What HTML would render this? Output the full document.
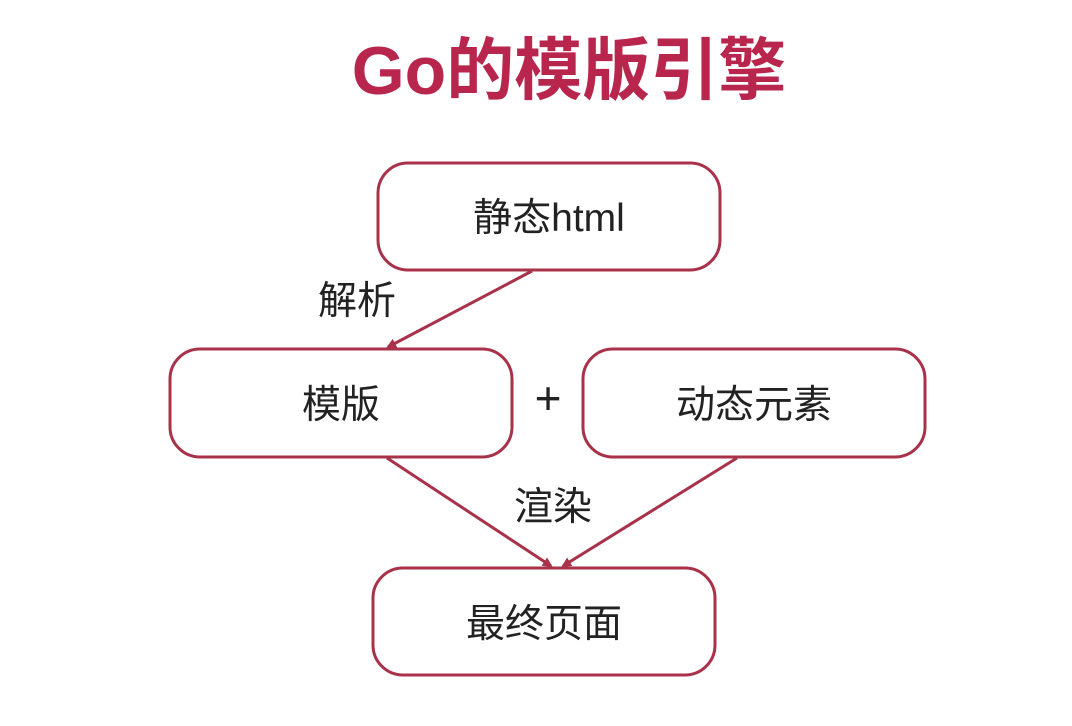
<!DOCTYPE html>
<html><head><meta charset="utf-8"><style>
body{margin:0;width:1072px;height:726px;background:#fff;overflow:hidden;position:relative;font-family:"Liberation Sans","Noto Sans CJK SC",sans-serif}
.t{position:absolute;left:0;width:1072px;top:31px;text-align:center;font-size:68px;font-weight:bold;color:#b8264e;line-height:80px;padding-left:66px;box-sizing:border-box}
</style></head><body>
<div class="t">Go的模版引擎</div>
<svg width="1072" height="726" style="position:absolute;left:0;top:0">
<defs><marker id="a" markerWidth="10" markerHeight="10" refX="8" refY="5" orient="auto" markerUnits="userSpaceOnUse"><path d="M0,0 L10,5 L0,10 z" fill="#a8324a"/></marker></defs>
<g fill="none" stroke="#a8324a" stroke-width="3">
<rect x="378" y="163" width="342" height="107" rx="30"/>
<rect x="170" y="349" width="342" height="108" rx="30"/>
<rect x="583" y="349" width="342" height="108" rx="30"/>
<rect x="373" y="568" width="342" height="107" rx="30"/>
<line x1="532" y1="271" x2="388" y2="347" marker-end="url(#a)"/>
<line x1="387" y1="458" x2="551" y2="566" marker-end="url(#a)"/>
<line x1="737" y1="458" x2="563" y2="566" marker-end="url(#a)"/>
</g>
<g font-family="Liberation Sans, Noto Sans CJK SC, sans-serif" font-size="39" fill="#222" text-anchor="middle">
<text x="549" y="231">静态html</text>
<text x="341" y="418">模版</text>
<text x="754" y="418">动态元素</text>
<text x="544" y="637">最终页面</text>
<text x="357" y="314">解析</text>
<text x="553" y="520">渲染</text>
<text x="548" y="414" font-size="46">+</text>
</g>
</svg>
</body></html>
